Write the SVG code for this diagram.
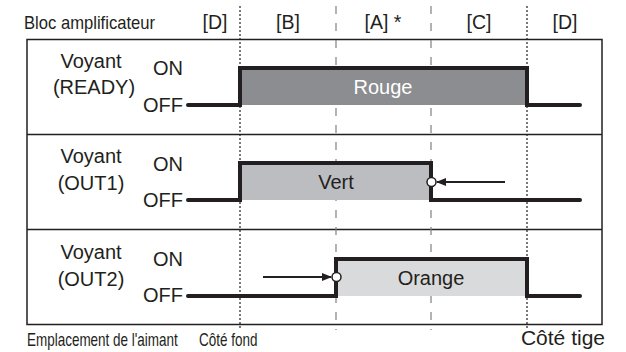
<svg xmlns="http://www.w3.org/2000/svg" width="626" height="352" viewBox="0 0 626 352">
<defs>
<style>
.t{font-family:"Liberation Sans",Arial,sans-serif;fill:#231f20}
.lab{font-size:20px;text-anchor:middle}
.hdr{font-size:19.5px;text-anchor:middle}
.nar{font-size:17.5px}
.sig{fill:none;stroke:#231f20;stroke-width:4;stroke-linecap:round;stroke-linejoin:miter}
.box{fill:none;stroke:#231f20;stroke-width:1.5}
.dot{stroke:#231f20;stroke-width:1.2;stroke-dasharray:2 2}
.dash{stroke:#808080;stroke-width:1.2;stroke-dasharray:8 9}
.arr{stroke:#231f20;stroke-width:2;fill:none}
.pt{fill:#fff;stroke:#231f20;stroke-width:1.5}
</style>
<marker id="ah" markerWidth="10" markerHeight="8" refX="9" refY="4" orient="auto" markerUnits="userSpaceOnUse">
<path d="M0,0 L10,4 L0,8 Z" fill="#231f20"/>
</marker>
</defs>
<rect width="626" height="352" fill="#fff"/>
<g id="frame">
<rect class="box" x="27" y="39.5" width="575" height="285"/>
<line class="box" x1="27" y1="134.5" x2="602" y2="134.5"/>
<line class="box" x1="27" y1="229.5" x2="602" y2="229.5"/>
</g>
<g id="gridlines">
<line class="dot" x1="240" y1="6" x2="240" y2="330"/>
<line class="dash" x1="336" y1="6" x2="336" y2="330"/>
<line class="dash" x1="431" y1="6" x2="431" y2="330"/>
<line class="dot" x1="527" y1="6" x2="527" y2="330"/>
</g>
<g id="header">
<text class="t nar" transform="translate(24,29) scale(0.95,1)">Bloc amplificateur</text>
<text class="t hdr" x="215" y="29">[D]</text>
<text class="t hdr" x="288" y="29">[B]</text>
<text class="t hdr" x="383" y="29">[A] *</text>
<text class="t hdr" x="479" y="29">[C]</text>
<text class="t hdr" x="565" y="29">[D]</text>
</g>
<g id="ready">
<text class="t lab" x="91" y="68">Voyant</text>
<text class="t lab" x="94" y="94">(READY)</text>
<text class="t lab" x="168" y="75">ON</text>
<text class="t lab" x="163" y="112">OFF</text>
<rect x="240" y="68" width="287" height="37" fill="#8c8d90"/>
<path class="sig" d="M188,105 H240 V68 H527 V105 H580"/>
<text class="t lab" x="383" y="94" style="fill:#fff">Rouge</text>
</g>
<g id="out1">
<text class="t lab" x="91" y="163">Voyant</text>
<text class="t lab" x="91" y="190">(OUT1)</text>
<text class="t lab" x="168" y="171">ON</text>
<text class="t lab" x="163" y="207">OFF</text>
<rect x="240" y="163" width="191" height="37" fill="#bcbdc0"/>
<path class="sig" d="M188,200 H240 V163 H431 V200 H580"/>
<text class="t lab" x="336" y="189">Vert</text>
</g>
<g id="out2">
<text class="t lab" x="91" y="259">Voyant</text>
<text class="t lab" x="91" y="286">(OUT2)</text>
<text class="t lab" x="168" y="266">ON</text>
<text class="t lab" x="163" y="302">OFF</text>
<rect x="336" y="259" width="191" height="37" fill="#d9dadb"/>
<path class="sig" d="M188,296 H336 V259 H527 V296 H580"/>
<text class="t lab" x="431" y="285">Orange</text>
</g>
<g id="connectors">
<line class="arr" x1="505" y1="182" x2="437" y2="182" marker-end="url(#ah)"/>
<circle class="pt" cx="431.5" cy="182" r="4.5"/>
<line class="arr" x1="263" y1="277" x2="331" y2="277" marker-end="url(#ah)"/>
<circle class="pt" cx="336.5" cy="277" r="4.5"/>
</g>
<g id="footer">
<text class="t nar" transform="translate(27,346) scale(0.77,1)">Emplacement de l'aimant</text>
<text class="t nar" transform="translate(199,346) scale(0.77,1)">Côté fond</text>
<text class="t" x="605" y="345" font-size="21" text-anchor="end">Côté tige</text>
</g>
</svg>
